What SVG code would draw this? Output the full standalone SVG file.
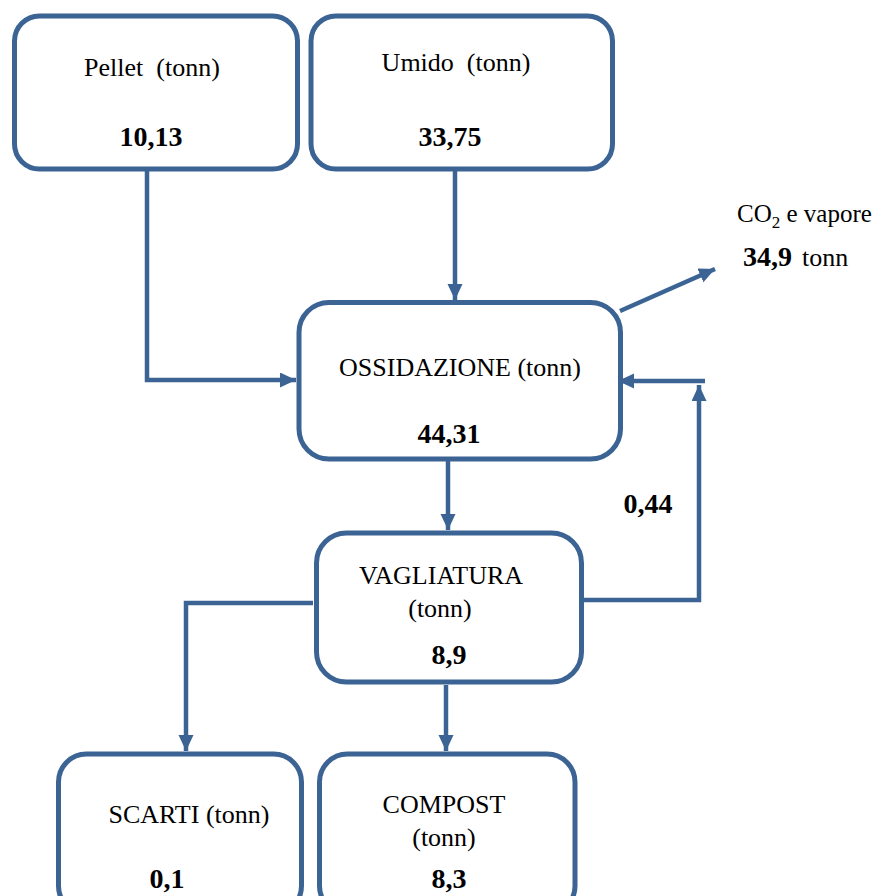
<svg xmlns="http://www.w3.org/2000/svg" width="877" height="896" viewBox="0 0 877 896">
<style>
.box{fill:#fff;stroke:#3b6494;stroke-width:5}
.con{fill:none;stroke:#3b6494;stroke-width:4.5}
.t{font-family:"Liberation Serif","Times New Roman",serif;font-size:26px;fill:#000}
.b{font-family:"Liberation Serif","Times New Roman",serif;font-size:28px;font-weight:bold;fill:#000}
</style>
<defs>
<marker id="ah" markerUnits="userSpaceOnUse" markerWidth="18" markerHeight="16" refX="16" refY="7.5" orient="auto">
<path d="M0,0 L16,7.5 L0,15 z" fill="#3b6494"/>
</marker>
</defs>
<rect width="877" height="896" fill="#fff"/>
<g id="connectors">
<polyline class="con" points="147,170 147,380 296,380" marker-end="url(#ah)"/>
<line class="con" x1="455" y1="170" x2="455" y2="300" marker-end="url(#ah)"/>
<line class="con" x1="620" y1="311" x2="715" y2="269" marker-end="url(#ah)"/>
<line class="con" x1="448" y1="461" x2="448" y2="530" marker-end="url(#ah)"/>
<polyline class="con" points="582,600 699,600 699,385" marker-end="url(#ah)"/>
<line class="con" x1="705" y1="381" x2="618" y2="381" marker-end="url(#ah)"/>
<polyline class="con" points="313,603 186,603 186,751" marker-end="url(#ah)"/>
<line class="con" x1="446" y1="685" x2="446" y2="751" marker-end="url(#ah)"/>
</g>
<g id="pellet">
<rect class="box" x="14.5" y="16" width="283" height="153" rx="25"/>
<text class="t" x="152" y="76" text-anchor="middle" xml:space="preserve">Pellet  (tonn)</text>
<text class="b" x="151" y="146" text-anchor="middle">10,13</text>
</g>
<g id="umido">
<rect class="box" x="311" y="16" width="301.5" height="153" rx="25"/>
<text class="t" x="456" y="71" text-anchor="middle" xml:space="preserve">Umido  (tonn)</text>
<text class="b" x="450" y="146" text-anchor="middle">33,75</text>
</g>
<g id="co2">
<text class="t" x="737" y="222" style="font-size:25px">CO<tspan font-size="17" dy="6">2</tspan><tspan dy="-6"> e vapore</tspan></text>
<text x="743" y="266"><tspan class="b">34,9</tspan></text>
<text class="t" x="802" y="266">tonn</text>
</g>
<g id="ossidazione">
<rect class="box" x="299" y="302.5" width="321.5" height="156.5" rx="30"/>
<text class="t" x="460" y="376" text-anchor="middle">OSSIDAZIONE (tonn)</text>
<text class="b" x="449" y="443" text-anchor="middle">44,31</text>
</g>
<g id="ricircolo">
<text class="b" x="648" y="513" text-anchor="middle">0,44</text>
</g>
<g id="vagliatura">
<rect class="box" x="316.5" y="533" width="265" height="149" rx="30"/>
<text class="t" x="441" y="584" text-anchor="middle">VAGLIATURA</text>
<text class="t" x="440" y="617" text-anchor="middle">(tonn)</text>
<text class="b" x="449" y="664" text-anchor="middle">8,9</text>
</g>
<g id="scarti">
<rect class="box" x="58.5" y="754" width="243" height="160" rx="28"/>
<text class="t" x="189" y="823" text-anchor="middle">SCARTI (tonn)</text>
<text class="b" x="167" y="888" text-anchor="middle">0,1</text>
</g>
<g id="compost">
<rect class="box" x="319.5" y="754" width="255.5" height="160" rx="28"/>
<text class="t" x="444" y="813" text-anchor="middle">COMPOST</text>
<text class="t" x="444" y="846" text-anchor="middle">(tonn)</text>
<text class="b" x="449" y="888" text-anchor="middle">8,3</text>
</g>
</svg>
